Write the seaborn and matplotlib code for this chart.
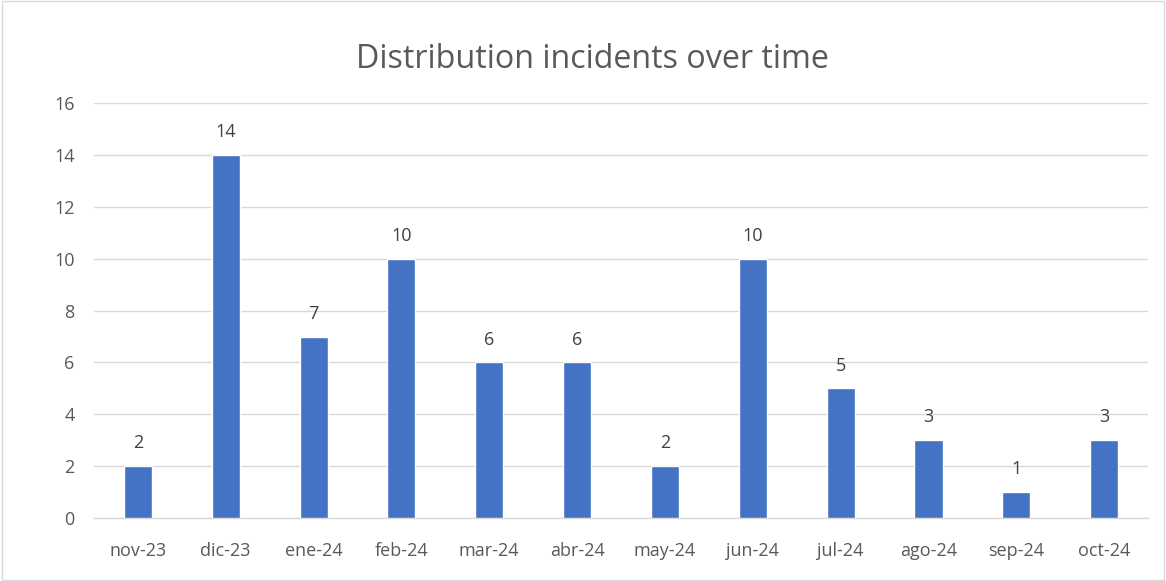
import matplotlib
matplotlib.use("Agg")
import matplotlib.pyplot as plt
import seaborn as sns
import pandas as pd
from matplotlib.patches import Rectangle

months = ["nov-23", "dic-23", "ene-24", "feb-24", "mar-24", "abr-24",
          "may-24", "jun-24", "jul-24", "ago-24", "sep-24", "oct-24"]
incidents = [2, 14, 7, 10, 6, 6, 2, 10, 5, 3, 1, 3]
yticks = [0, 2, 4, 6, 8, 10, 12, 14, 16]

df = pd.DataFrame({"month": months, "incidents": incidents})

sns.set_theme(style="white")
plt.rcParams['font.family'] = ['Open Sans', 'DejaVu Sans']

fig = plt.figure(figsize=(11.66, 5.81), dpi=100)
ax = fig.add_axes([0.0806, 0.108, 0.904, 0.715])

sns.barplot(data=df, x="month", y="incidents", color="#4472C4",
            width=0.32, saturation=1, ax=ax, zorder=3)

ax.set_ylim(0, 16)
ax.set_xlim(-0.5, len(months) - 0.5)
ax.set_yticks(yticks)
ax.yaxis.grid(True, color="#D9D9D9", linewidth=1, zorder=0)
ax.set_axisbelow(True)
for s in ["top", "right", "left"]:
    ax.spines[s].set_visible(False)
ax.spines["bottom"].set_color("#D9D9D9")
ax.spines["bottom"].set_linewidth(1)
ax.tick_params(axis="both", length=0, labelsize=13, colors="#595959")
ax.tick_params(axis="x", pad=17)
ax.tick_params(axis="y", pad=14)
ax.set_xlabel("")
ax.set_ylabel("")

for c in ax.containers:
    ax.bar_label(c, labels=[str(v) for v in incidents], padding=10,
                 fontsize=13, color="#404040")

fig.text(0.508, 0.898, "Distribution incidents over time", ha="center", va="center",
         fontsize=23.2, color="#595959")

fig.patches.append(Rectangle((0.002, 0.002), 0.996, 0.996, transform=fig.transFigure,
                             fill=False, edgecolor="#D9D9D9", linewidth=1))

fig.savefig("out.png", dpi=100)
